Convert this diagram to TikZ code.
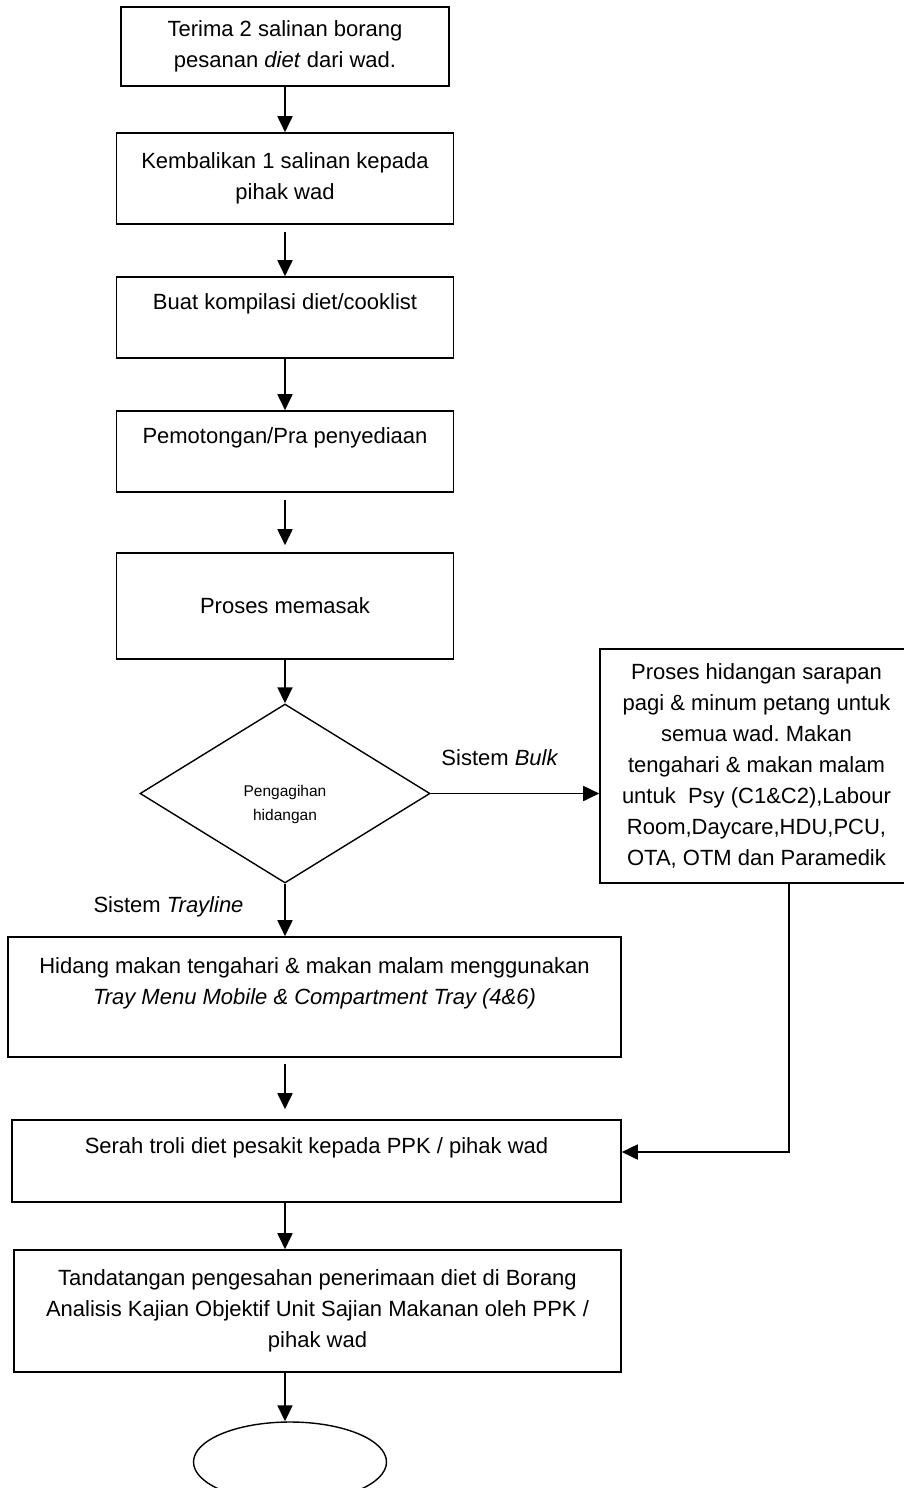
\documentclass[tikz,border=0pt]{standalone}
\usepackage{fontspec}
\setmainfont{Liberation Sans}
\usetikzlibrary{shapes.geometric}
\usetikzlibrary{arrows.meta}
\tikzset{>={Triangle[length=16pt,width=15pt]}}
\tikzset{box/.style = {shape=rectangle,draw,line width=1.6pt,align=center}}
\tikzset{flow/.style = {->,line width=1.8pt}}
\frenchspacing

\begin{document}
\begin{tikzpicture}[x=1pt,y=-1pt,font=\fontsize{22}{31}\selectfont]
\useasboundingbox (0,0) rectangle (903,1488);

\node[box,minimum width=328,minimum height=79] (terima) at (285,46.5) {Terima 2 salinan borang\\pesanan \textit{diet} dari wad.};
\node[box,minimum width=337,minimum height=91] (kembali) at (285,178.5) {Kembalikan 1 salinan kepada\\pihak wad};
\node[box,minimum width=337,minimum height=81] (kompilasi) at (285,317.5) {Buat kompilasi diet/cooklist\\ \mbox{}};
\node[box,minimum width=337,minimum height=81] (potong) at (285,451.5) {Pemotongan/Pra penyediaan\\ \mbox{}};
\node[box,minimum width=337,minimum height=106] (masak) at (285,606) {Proses memasak};
\node[shape=diamond,draw,line width=1.4pt,inner sep=0pt,minimum width=290,minimum height=179,align=center,font=\fontsize{15.5}{24}\selectfont] (bagi) at (285,793.5) {\mbox{}\\[10pt]Pengagihan\\hidangan};
\node[box,minimum width=313,minimum height=234] (bulk) at (756.5,766) {Proses hidangan sarapan\\pagi \& minum petang untuk\\semua wad. Makan\\tengahari \& makan malam\\untuk~ Psy (C1\&C2),Labour\\Room,Daycare,HDU,PCU,\\OTA, OTM dan Paramedik};
\node[box,minimum width=613,minimum height=120] (hidang) at (314.5,997) {Hidang makan tengahari \& makan malam menggunakan\\\textit{Tray Menu Mobile \& Compartment Tray (4\&6)}\\ \mbox{}};
\node[box,minimum width=609,minimum height=82] (serah) at (316.5,1161) {Serah troli diet pesakit kepada PPK / pihak wad\\ \mbox{}};
\node[box,minimum width=607,minimum height=122] (tanda) at (317.5,1311) {Tandatangan pengesahan penerimaan diet di Borang\\Analisis Kajian Objektif Unit Sajian Makanan oleh PPK /\\pihak wad};
\node[shape=ellipse,draw,line width=1.4pt,minimum width=193,minimum height=80] (tamat) at (290,1462) {};

\node[anchor=base] (bulklbl) at (500,765) {Sistem \textit{Bulk}};
\node[anchor=base] (traylbl) at (168.5,912) {Sistem \textit{Trayline}};
\coordinate (belok) at (789,1152);

\draw[flow] (terima) -- (kembali);
\draw[flow,shorten <=7pt] (kembali) -- (kompilasi);
\draw[flow] (kompilasi) -- (potong);
\draw[flow,shorten <=7pt,shorten >=7pt] (potong) -- (masak);
\draw[flow] (masak) -- (bagi);
\draw[flow] (bagi.east) -- (bulk.west |- bagi.east);
\draw[flow] (bagi.south) -- (hidang.north -| bagi.south);
\draw[flow,shorten <=6pt,shorten >=10pt] (hidang.south -| bagi.south) -- (serah.north -| bagi.south);
\draw[flow] (bulk.south -| belok) -- (belok) -- (serah.east |- belok);
\draw[flow] (serah.south -| bagi.south) -- (tanda.north -| bagi.south);
\draw[flow] (tanda.south -| bagi.south) -- (tamat.north -| bagi.south);
\end{tikzpicture}
\end{document}
